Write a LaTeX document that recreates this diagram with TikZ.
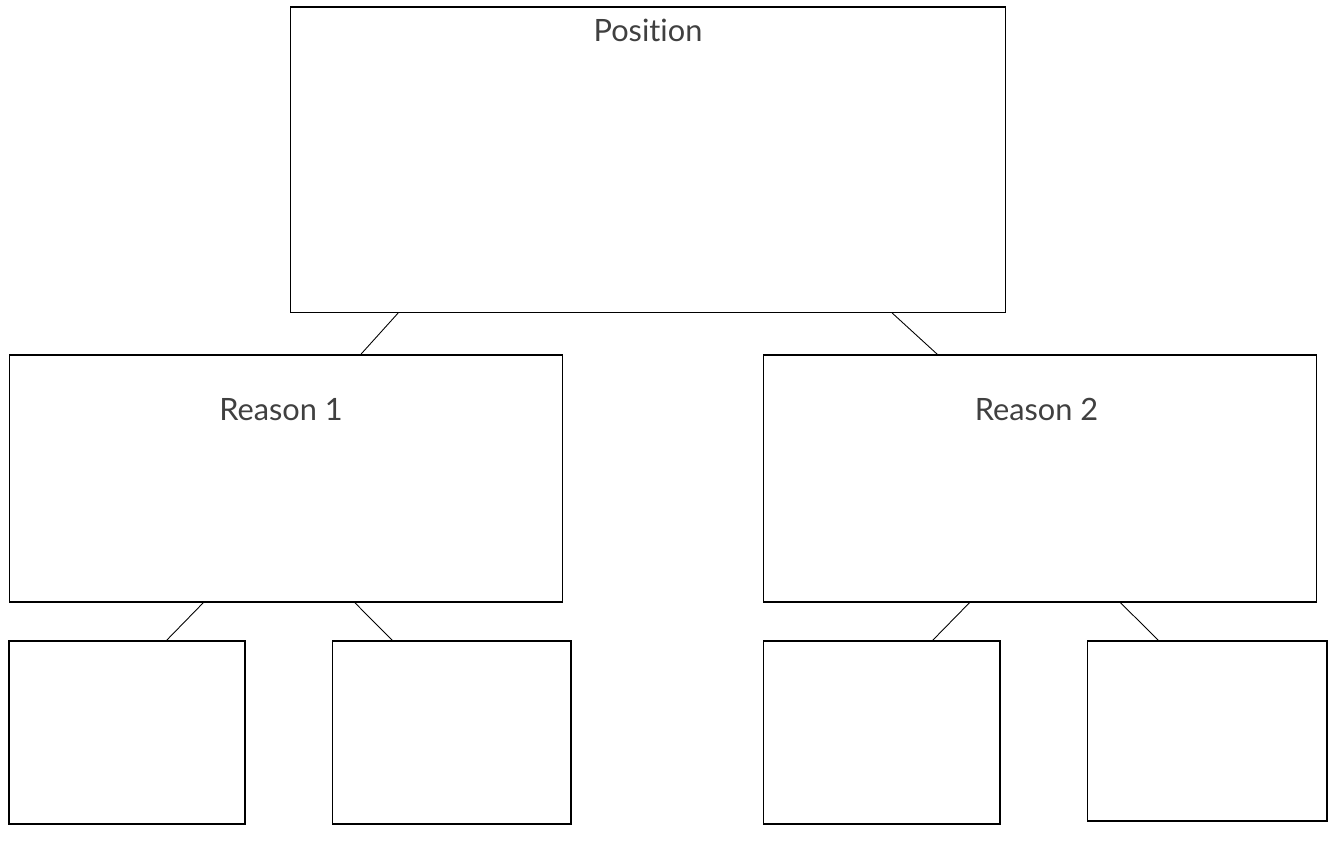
\documentclass[tikz,border=0pt]{standalone}
\usepackage{fontspec}
\setmainfont{Lato}[Ligatures=NoCommon]
\usepackage{tikz}
\usetikzlibrary{positioning, calc}

\begin{document}
\begin{tikzpicture}[
    x=0.02cm, y=-0.02cm,
    box/.style={rectangle, draw=black, line width=0.6pt, inner sep=0pt, outer sep=0pt},
    title/.style={font=\fontsize{17.5}{20}\selectfont, text=black!75, inner sep=0pt, anchor=base},
    link/.style={line width=0.5pt}
]
    \useasboundingbox (0,0) rectangle (1338,854);

    % position and reasons
    \node[box, minimum width=14.32cm, minimum height=6.12cm] (position) at (648,160) {};
    \node[box, minimum width=11.08cm, minimum height=4.94cm] (reason1) at (286,478.5) {};
    \node[box, minimum width=11.08cm, minimum height=4.94cm] (reason2) at (1040,478.5) {};

    \node[title] (postext) at (648,42) {Position};
    \node[title] (r1text) at (281,420) {Reason 1};
    \node[title] (r2text) at (1036.5,420) {Reason 2};

    % evidence boxes
    \node[box, minimum width=4.72cm, minimum height=3.66cm] (ev1) at (127,732.5) {};
    \node[box, minimum width=4.78cm, minimum height=3.66cm] (ev2) at (451.5,732.5) {};
    \node[box, minimum width=4.74cm, minimum height=3.66cm] (ev3) at (881.5,732.5) {};
    \node[box, minimum width=4.80cm, minimum height=3.60cm] (ev4) at (1207,731) {};

    \draw[link] ($(position.south west)!0.151!(position.south east)$) -- ($(reason1.north west)!0.634!(reason1.north east)$);
    \draw[link] ($(position.south west)!0.841!(position.south east)$) -- ($(reason2.north west)!0.316!(reason2.north east)$);
    \draw[link] ($(reason1.south west)!0.352!(reason1.south east)$) -- ($(ev1.north west)!0.665!(ev1.north east)$);
    \draw[link] ($(reason1.south west)!0.623!(reason1.south east)$) -- ($(ev2.north west)!0.255!(ev2.north east)$);
    \draw[link] ($(reason2.south west)!0.374!(reason2.south east)$) -- ($(ev3.north west)!0.713!(ev3.north east)$);
    \draw[link] ($(reason2.south west)!0.644!(reason2.south east)$) -- ($(ev4.north west)!0.300!(ev4.north east)$);
\end{tikzpicture}
\end{document}
